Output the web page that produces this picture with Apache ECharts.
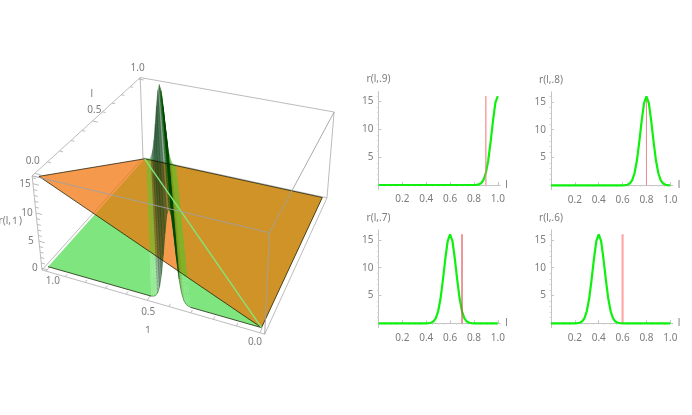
<!DOCTYPE html>
<html><head><meta charset="utf-8">
<style>html,body{margin:0;padding:0;background:#fff}#c{width:692px;height:415px}</style>
<script src="https://cdn.jsdelivr.net/npm/echarts@6/dist/echarts.min.js"></script>
</head><body><div id="c"></div>
<script>
// ---------- values ----------
const lValues = [0,.02,.04,.06,.08,.1,.12,.14,.16,.18,.2,.22,.24,.26,.28,.3,.32,.34,.36,.38,.4,.42,.44,.46,.48,.5,.52,.54,.56,.58,.6,.62,.64,.66,.68,.7,.72,.74,.76,.78,.8,.82,.84,.86,.88,.9,.92,.94,.96,.98,1];
const curve9 = [0,0,0,0,0,0,0,0,0,0,0,0,0,0,0,0,0,0,0,0,0,0,0,0,0,0,0,0,0,0,0,0,0,0,0,0,0,0,0,0,0,.02,.1,.32,.9,2.17,4.45,7.8,11.6,14.8,16];
const curve8 = [0,0,0,0,0,0,0,0,0,0,0,0,0,0,0,0,0,0,0,0,0,0,0,0,0,0,0,0,0,0,0,.02,.1,.32,.9,2.17,4.45,7.8,11.6,14.8,16,14.8,11.6,7.8,4.45,2.17,.9,.32,.1,.02,0];
const curve7 = [0,0,0,0,0,0,0,0,0,0,0,0,0,0,0,0,0,0,0,0,0,.02,.1,.32,.9,2.17,4.45,7.8,11.6,14.8,16,14.8,11.6,7.8,4.45,2.17,.9,.32,.1,.02,0,0,0,0,0,0,0,0,0,0,0];
const curve6 = [0,0,0,0,0,0,0,0,0,0,0,.02,.1,.32,.9,2.17,4.45,7.8,11.6,14.8,16,14.8,11.6,7.8,4.45,2.17,.9,.32,.1,.02,0,0,0,0,0,0,0,0,0,0,0,0,0,0,0,0,0,0,0,0,0];
const panelTitles = ['r(l,.9)','r(l,.8)','r(l,.7)','r(l,.6)'];
const panelMarkers = [.9,.8,.7,.6];
const xTickLabels = [.2,.4,.6,.8,1];
const rTickLabels = [5,10,15];
const xMinorTicks = [.05,.1,.15,.25,.3,.35,.45,.5,.55,.65,.7,.75,.85,.9,.95];
const rMinorTicks = [1,2,3,4,6,7,8,9,11,12,13,14,16];
const markerTop = 16;

// ---------- values read from the 3D surface (l, lambda, r) ----------
const ridgeRowL      = [1,.98,.96,.94,.92,.9,.88,.86,.84,.82,.8,.78,.76,.74,.72,.7,.68,.66,.64,.62,.6,.58,.56,.54,.52,.5,.48,.46,.44,.42,.4,.38,.36,.34,.32,.3,.28,.26,.24,.22,.2,.18,.16,.14,.12,.1,.08,.06,.04,.02,0];
const ridgeRowLambda = [.9,.89,.88,.87,.86,.85,.84,.83,.82,.81,.8,.79,.78,.77,.76,.75,.74,.73,.72,.71,.7,.69,.68,.67,.66,.65,.64,.63,.62,.61,.6,.59,.58,.57,.56,.55,.54,.53,.52,.51,.5,.49,.48,.47,.46,.45,.44,.43,.42,.41,.4];
const crossOffset = [-.18,-.16,-.14,-.12,-.1,-.08,-.06,-.04,-.02,0,.02,.04,.06,.08,.1,.12,.14,.16,.18];
const crossHeight = [.02,.1,.32,.9,2.17,4.45,7.8,11.6,14.8,16,14.8,11.6,7.8,4.45,2.17,.9,.32,.1,.02];
const floorLeft  = [[0,1,0],[0,.49,0],[1,.99,0],[1,1,0]];
const floorRight = [[0,0,0],[0,.31,0],[1,.81,0],[1,0,0]];
const orangeUpper = [[0,1,16],[1,1,0],[0,0,0]];
const orangeLower = [[1,1,0],[1,0,0],[0,0,0]];
const lambdaTicks = [0,.1,.2,.3,.4,.5,.6,.7,.8,.9,1];
const lTicks = [0,.1,.2,.3,.4,.5,.6,.7,.8,.9,1];
const rTicks = [0,1,2,3,4,5,6,7,8,9,10,11,12,13,14,15,16];

// ---------- camera fitted to the drawn box ----------
const B = {l0:-.02,l1:1.02,a0:-.02,a1:1.02,r0:-.32,r1:16.32};
const boxFit = [
 [B.l0,B.a1,B.r0,41.7,270],[B.l0,B.a1,B.r1,32.3,176],[B.l1,B.a1,B.r1,140,77.7],[B.l1,B.a1,B.r0,143.3,157.5],
 [B.l0,B.a0,B.r0,265,334],[B.l0,B.a0,B.r1,269.3,232.7],[B.l1,B.a0,B.r1,334.3,111.7],[B.l1,B.a0,B.r0,326.7,198.3]];
function fitCamera(){
  const rows=[],rhs=[];
  boxFit.forEach(([x,y,z0,u0,v0])=>{const z=z0/16,u=u0/100,v=v0/100;
    rows.push([x,y,z,1,0,0,0,0,-u*x,-u*y,-u*z]);rhs.push(u);
    rows.push([0,0,0,0,x,y,z,1,-v*x,-v*y,-v*z]);rhs.push(v);});
  const n=11,A=[];
  for(let i=0;i<n;i++){A[i]=[];for(let j=0;j<n;j++){let s=0;rows.forEach(r=>s+=r[i]*r[j]);A[i][j]=s;}
    let s=0;rows.forEach((r,k)=>s+=r[i]*rhs[k]);A[i][n]=s;}
  for(let c=0;c<n;c++){let p=c;for(let i=c+1;i<n;i++)if(Math.abs(A[i][c])>Math.abs(A[p][c]))p=i;
    [A[c],A[p]]=[A[p],A[c]];
    for(let i=0;i<n;i++){if(i===c)continue;const f=A[i][c]/A[c][c];for(let j=c;j<=n;j++)A[i][j]-=f*A[c][j];}}
  return A.map((r,i)=>r[n]/r[i]);
}
const P = fitCamera();
function project(p){const x=p[0],y=p[1],z=p[2]/16;
  const w=P[8]*x+P[9]*y+P[10]*z+1;
  return [100*(P[0]*x+P[1]*y+P[2]*z+P[3])/w,100*(P[4]*x+P[5]*y+P[6]*z+P[7])/w];}

// ---------- build scene pieces ----------
const ridgeFaces=[], ridgeStyles=[];
for(let i=0;i<ridgeRowL.length-1;i++){for(let j=0;j<crossOffset.length-1;j++){
  const pt=(r,c)=>[ridgeRowL[r],ridgeRowLambda[r]-crossOffset[c]/2,crossHeight[c]];
  ridgeFaces.push([pt(i,j),pt(i,j+1),pt(i+1,j+1),pt(i+1,j)]);
  const h=Math.max(crossHeight[j],crossHeight[j+1]);
  const leftFlank=crossOffset[j]<0;
  let st;
  if(leftFlank) st = h<1 ? {fill:'rgba(0,205,0,0.42)'} : {fill:'rgba(30,95,40,0.2)',stroke:'rgba(0,55,10,0.3)',lineWidth:.55};
  else st = h<1 ? {fill:'rgba(0,205,0,0.5)'} : h<5 ? {fill:'rgba(60,190,10,0.5)',stroke:'rgba(40,120,0,0.12)',lineWidth:.5}
                : {fill:'rgba(0,135,0,0.45)',stroke:'rgba(0,70,0,0.4)',lineWidth:.55};
  ridgeStyles.push(st);
}}
const frontArch=[];
for(let j=0;j<crossOffset.length-1;j++){const last=ridgeRowL.length-1;
  frontArch.push([[0,ridgeRowLambda[last]-crossOffset[j]/2,crossHeight[j]],[0,ridgeRowLambda[last]-crossOffset[j+1]/2,crossHeight[j+1]]]);}
const seg=(a,b)=>[a,b];
const c=(l,a,r)=>[l,a,r];
const backEdges=[
 seg(c(B.l0,B.a1,B.r0),c(B.l0,B.a1,B.r1)),seg(c(B.l0,B.a1,B.r1),c(B.l1,B.a1,B.r1)),seg(c(B.l1,B.a1,B.r1),c(B.l1,B.a1,B.r0)),
 seg(c(B.l1,B.a1,B.r1),c(B.l1,B.a0,B.r1)),seg(c(B.l1,B.a0,B.r1),c(B.l1,B.a0,B.r0)),
 seg(c(B.l0,B.a1,B.r0),c(B.l1,B.a1,B.r0)),seg(c(B.l1,B.a1,B.r0),c(B.l1,B.a0,B.r0)),
 seg(c(B.l0,B.a1,B.r0),c(B.l0,B.a0,B.r0)),seg(c(B.l0,B.a0,B.r0),c(B.l1,B.a0,B.r0))];
lambdaTicks.forEach((v,i)=>{const m=i%5===0;backEdges.push(seg(c(B.l0,v,B.r0),c(B.l0+(m?.03:.018),v,B.r0)));});
lTicks.forEach((v,i)=>{const m=i%5===0;backEdges.push(seg(c(v,B.a1,B.r1),c(v,B.a1-(m?.03:.018),B.r1)));});
rTicks.forEach((v,i)=>{const m=i%5===0;backEdges.push(seg(c(B.l0,B.a1,v),c(B.l0,B.a1-(m?.03:.018),v)));});
const frontEdges=[seg(c(B.l0,B.a1,B.r1),c(B.l0,B.a0,B.r1)),seg(c(B.l0,B.a0,B.r1),c(B.l1,B.a0,B.r1)),seg(c(B.l0,B.a0,B.r1),c(B.l0,B.a0,B.r0))];
const darkLines=[
 seg(orangeUpper[0],orangeUpper[1]),seg(orangeUpper[0],orangeUpper[2]),seg(orangeLower[0],orangeLower[1]),seg(orangeLower[1],orangeLower[2]),
 seg(floorLeft[0],floorLeft[1]),seg(floorRight[0],floorRight[1])];

const gray='#7d7d7d', FONT='"Noto Sans","Open Sans",sans-serif';
const tickTexts=[
 ['1.0',[B.l0,1,B.r0],7,10],['0.5',[B.l0,.5,B.r0],1,12],['0.0',[B.l0,0,B.r0],-5,9],
 ['1.0',[1,B.a1,B.r1],-1,-11],['0.5',[.5,B.a1,B.r1],2,-11],['0.0',[0,B.a1,B.r1],-2,-12],
 ['15',[B.l0,B.a1,15],-8,0],['10',[B.l0,B.a1,10],-9,0],['5',[B.l0,B.a1,5],-8,0],['0',[B.l0,B.a1,0],-7,0],
 ['l',[.75,B.a1,B.r1],-25,-5],['↿',[B.l0,.5,B.r0],1,30],['r(l,↿)',[B.l0,B.a1,8],-27,-3]
];

// ---------- chart ----------
const polyItem=(api,pts,style)=>({type:'polygon',shape:{points:pts.map(p=>api.coord(project(p)))},style});
function polySeries(list,styleOf){return {type:'custom',coordinateSystem:'cartesian2d',xAxisIndex:0,yAxisIndex:0,silent:true,clip:false,animation:false,progressive:0,
  data:list.map((_,i)=>[i,i]),renderItem:(p,api)=>polyItem(api,list[p.dataIndex],styleOf(p.dataIndex))};}
function lineSeries(list,style){return {type:'custom',coordinateSystem:'cartesian2d',xAxisIndex:0,yAxisIndex:0,silent:true,clip:false,animation:false,
  data:list.map((_,i)=>[i,i]),renderItem:(p,api)=>{const [a,b]=list[p.dataIndex],A=api.coord(project(a)),C=api.coord(project(b));
    return {type:'line',shape:{x1:A[0],y1:A[1],x2:C[0],y2:C[1]},style};}};}

const series=[];
const grids=[{left:0,top:0,width:692,height:415,show:false}];
const xAxes=[{gridIndex:0,type:'value',min:0,max:692,show:false}];
const yAxes=[{gridIndex:0,type:'value',min:0,max:415,inverse:true,show:false}];

series.push(lineSeries(backEdges,{stroke:'#b4b4b4',lineWidth:.9}));
const floorStyle={fill:'rgba(0,205,0,0.5)'};
series.push(polySeries([floorLeft,floorRight],()=>floorStyle));
series.push(polySeries([orangeUpper,orangeLower],()=>({fill:'rgba(241,111,1,0.7)'})));
series.push(polySeries(ridgeFaces,i=>ridgeStyles[i]));
series.push(lineSeries(frontArch,{stroke:'rgba(0,70,0,0.55)',lineWidth:.8}));
series.push(lineSeries(darkLines,{stroke:'rgba(20,20,0,0.8)',lineWidth:.9}));
series.push(lineSeries([[[1,1,0],[0,0,0]]],{stroke:'#82e67c',lineWidth:1.4}));
series.push(lineSeries(frontEdges,{stroke:'#a0a0a0',lineWidth:.9}));
series.push({type:'custom',coordinateSystem:'cartesian2d',xAxisIndex:0,yAxisIndex:0,silent:true,clip:false,animation:false,
  data:tickTexts.map((_,i)=>[i,i]),renderItem:(p,api)=>{const t=tickTexts[p.dataIndex],q=api.coord(project(t[1]));
   return {type:'text',style:{x:q[0]+t[2],y:q[1]+t[3],text:t[0],fill:gray,font:'10px '+FONT,align:'center',verticalAlign:'middle'}};}});

// small panels
const panelLeft=[378.5,551,378.5,551], panelAxisY=[185,185.3,323.3,323.3];
const curves=[curve9,curve8,curve7,curve6];
const redStyle=[{c:'#ef8080',w:1.1},{c:'#e38c8c',w:1},{c:'#d9444a',w:1.1},{c:'#ffa8a8',w:2.2}];
const Y0=-.8,Y1=16.8,XM=1.02,pxX=119.3,pxY=5.56;
curves.forEach((curve,i)=>{
  const g=grids.length, xa=xAxes.length, ya=yAxes.length;
  grids.push({left:panelLeft[i],top:panelAxisY[i]-Y1*pxY,width:XM*pxX,height:(Y1-Y0)*pxY,show:false});
  const lab={color:gray,fontSize:10,fontFamily:FONT};
  xAxes.push({gridIndex:g,type:'value',min:0,max:XM,name:'l',nameLocation:'end',nameGap:5,nameTextStyle:{color:gray,fontSize:10,fontFamily:FONT,padding:[0,0,2,0]},
    axisLine:{onZero:true,lineStyle:{color:'#c4c4c4',width:1}},splitLine:{show:false},
    axisTick:{show:true,inside:true,length:3,lineStyle:{color:'#c4c4c4'},customValues:xTickLabels},
    axisLabel:{...lab,margin:5,customValues:xTickLabels,formatter:v=>v.toFixed(1)}});
  xAxes.push({gridIndex:g,type:'value',min:0,max:XM,axisLine:{show:false},splitLine:{show:false},axisLabel:{show:false},
    axisTick:{show:true,inside:true,length:1.5,lineStyle:{color:'#d6d6d6'},customValues:xMinorTicks}});
  yAxes.push({gridIndex:g,type:'value',min:Y0,max:Y1,name:panelTitles[i],nameLocation:'end',nameGap:7,nameTextStyle:{color:gray,fontSize:10,fontFamily:FONT},
    axisLine:{onZero:false,lineStyle:{color:'#c4c4c4',width:1}},splitLine:{show:false},
    axisTick:{show:true,inside:true,length:3,lineStyle:{color:'#c4c4c4'},customValues:rTickLabels},
    axisLabel:{...lab,margin:5,customValues:rTickLabels,formatter:v=>String(v)}});
  yAxes.push({gridIndex:g,type:'value',min:Y0,max:Y1,axisLine:{show:false},splitLine:{show:false},axisLabel:{show:false},
    axisTick:{show:true,inside:true,length:1.5,lineStyle:{color:'#d6d6d6'},customValues:rMinorTicks}});
  series.push({type:'line',xAxisIndex:xa,yAxisIndex:ya,data:lValues.map((l,k)=>[l,curve[k]]),showSymbol:false,smooth:false,animation:false,silent:true,clip:false,
    lineStyle:{color:'#0ff00f',width:2.2},z:3});
  series.push({type:'line',xAxisIndex:xa,yAxisIndex:ya,data:[[panelMarkers[i],0],[panelMarkers[i],markerTop]],showSymbol:false,animation:false,silent:true,
    lineStyle:{color:redStyle[i].c,width:redStyle[i].w},z:i===0||i===2?4:2});
});

const chart=echarts.init(document.getElementById('c'),null,{renderer:'canvas',width:692,height:415});
chart.setOption({backgroundColor:'#fff',animation:false,grid:grids,xAxis:xAxes,yAxis:yAxes,series});
</script></body></html>
